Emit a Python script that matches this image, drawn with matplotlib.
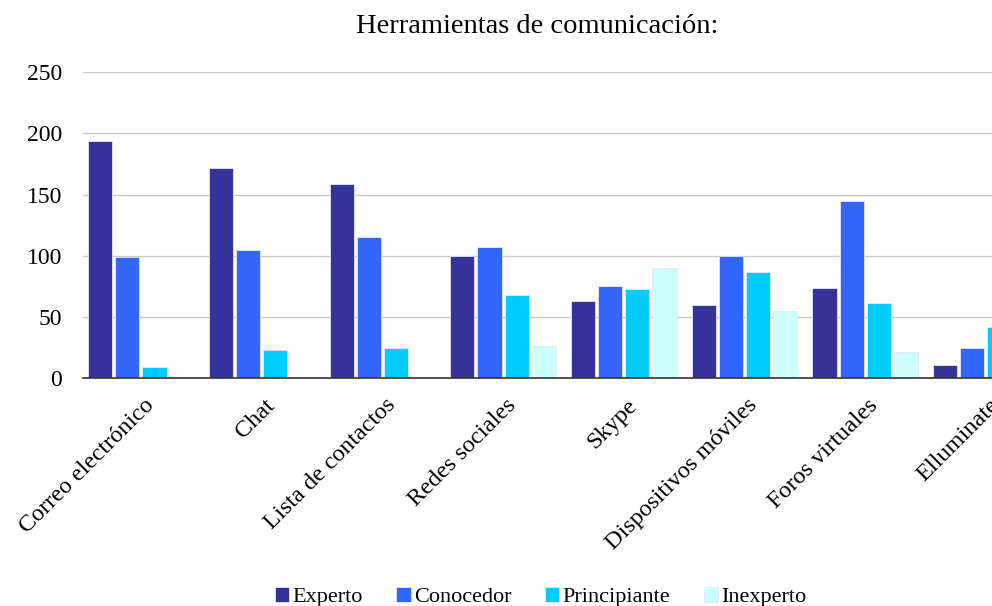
import numpy as np
from matplotlib import pyplot as plt

categories = ['Correo electrónico', 'Chat', 'Lista de contactos', 'Redes sociales',
              'Skype', 'Dispositivos móviles', 'Foros virtuales', 'Elluminate']
experto = [194, 172, 159, 100, 63, 60, 74, 11]
conocedor = [99, 105, 115, 107, 75, 100, 145, 25]
principiante = [9, 23, 25, 68, 73, 87, 61, 42]
inexperto = [0, 1, 1, 26, 90, 55, 21, np.nan]

series = [('Experto', experto, '#333399'),
          ('Conocedor', conocedor, '#3366FF'),
          ('Principiante', principiante, '#00CCFF'),
          ('Inexperto', inexperto, '#CCFFFF')]

plt.rcParams['font.family'] = ['Liberation Serif', 'DejaVu Serif']

fig = plt.figure(figsize=(9.92, 6.06), dpi=100)
ax = fig.add_axes([0.0837, 0.376, 0.9163, 0.505])

x = np.arange(len(categories))
step = 0.225
width = 0.2
for i, (name, vals, color) in enumerate(series):
    ax.bar(x + (i - 1.5) * step - 0.02, vals, width, color=color, label=name,
           edgecolor='#e6e6f5', linewidth=0.6, zorder=3)

ax.set_xlim(-0.5, 7.03)
ax.set_ylim(0, 250)
ax.set_yticks([0, 50, 100, 150, 200, 250])
ax.grid(axis='y', color='#c8c8c8', linewidth=1, zorder=0)
for s in ['top', 'right', 'left']:
    ax.spines[s].set_visible(False)
ax.spines['bottom'].set_color('#333333')
ax.spines['bottom'].set_linewidth(1.2)
ax.spines['bottom'].set_zorder(4)
ax.tick_params(axis='both', length=0)
ax.tick_params(axis='y', pad=15, labelsize=17)
ax.tick_params(axis='x', pad=12, labelsize=17.5)
ax.set_xticks(x)
ax.set_xticklabels(categories, rotation=45, ha='right', rotation_mode='anchor')

ax.set_title('Herramientas de comunicación:', fontsize=20.5, pad=28)

fig.legend(loc='lower center', bbox_to_anchor=(0.545, -0.035), ncol=4, frameon=False,
           fontsize=16, handlelength=0.65, handleheight=0.65, handletextpad=0.15,
           columnspacing=1.5)

fig.savefig('out.png', dpi=100)
